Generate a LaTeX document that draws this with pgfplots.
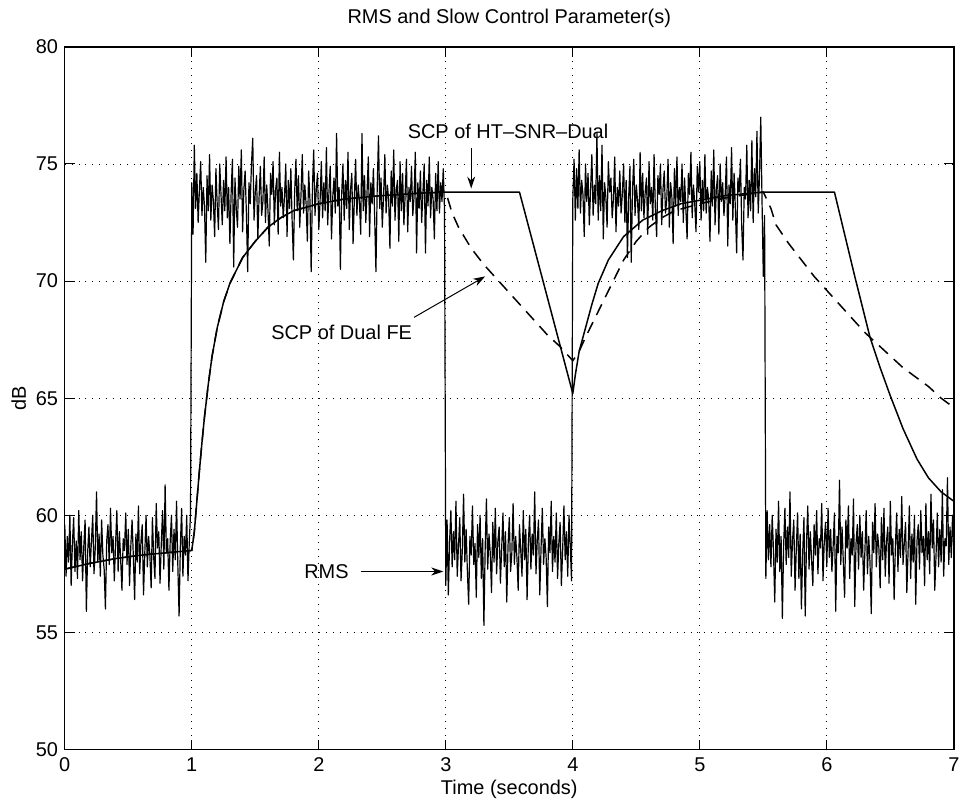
\documentclass[border=0pt]{standalone}
\usepackage{fontspec}
\setmainfont{Liberation Sans}
\usepackage{pgfplots}
\pgfplotsset{compat=1.18}
\usetikzlibrary{arrows.meta}
\begin{document}
\fontsize{20}{24}\selectfont
\begin{tikzpicture}
\path (-65pt,-54pt) rectangle (901pt,752pt);
\begin{axis}[
  scale only axis, width=892pt, height=705pt,
  at={(0,0)}, anchor=south west,
  xmin=0, xmax=7, ymin=50, ymax=80,
  xtick={0,1,2,3,4,5,6,7}, ytick={50,55,60,65,70,75,80},
  tick pos=both, tick align=inside, major tick length=10pt,
  tick style={line width=1pt, black},
  axis line style={line width=1.4pt, black},
  grid=major,
  major grid style={dash pattern=on 0.9pt off 6pt, line width=0.9pt, black},
  /pgf/number format/assume math mode=true,
  tick label style={font=\fontsize{20}{24}\selectfont},
  xticklabel style={yshift=-1pt},
  title={RMS and Slow Control Parameter(s)},
  title style={at={(axis description cs:0.5,1.0245)}, anchor=base, font=\fontsize{20}{24}\selectfont},
  xlabel={Time (seconds)},
  xlabel style={at={(axis description cs:0.5,-0.0645)}, anchor=base, font=\fontsize{20}{24}\selectfont},
  ylabel={dB},
  ylabel style={at={(axis description cs:-0.0437,0.5)}, anchor=base, font=\fontsize{20}{24}\selectfont},
]
% RMS
\addplot[black, line width=1.2pt, line join=round] table {
x y
0.00 59.6
0.01 57.4
0.02 59.1
0.03 58.0
0.04 60.0
0.05 57.0
0.06 58.8
0.07 59.9
0.08 57.6
0.09 58.9
0.10 57.3
0.11 60.2
0.12 58.1
0.13 59.3
0.14 57.2
0.15 58.7
0.16 59.8
0.17 55.9
0.18 58.4
0.19 59.5
0.20 57.8
0.21 58.9
0.22 60.0
0.23 57.5
0.24 58.6
0.25 61.0
0.26 58.0
0.27 59.2
0.28 57.4
0.29 59.8
0.30 58.3
0.31 57.7
0.32 56.0
0.33 58.9
0.34 59.6
0.35 57.9
0.36 60.3
0.37 58.4
0.38 59.1
0.39 57.2
0.40 58.8
0.41 60.2
0.42 57.6
0.43 59.3
0.44 58.1
0.45 56.8
0.46 59.0
0.47 58.5
0.48 60.1
0.49 57.9
0.50 59.4
0.51 57.0
0.52 58.7
0.53 59.8
0.54 58.2
0.55 56.4
0.56 59.2
0.57 58.0
0.58 60.4
0.59 57.5
0.60 58.9
0.61 59.6
0.62 56.6
0.63 58.4
0.64 60.0
0.65 57.8
0.66 59.1
0.67 58.3
0.68 56.9
0.69 59.9
0.70 58.2
0.71 57.3
0.72 60.5
0.73 58.6
0.74 59.3
0.75 57.1
0.76 58.8
0.77 60.2
0.78 57.7
0.79 61.3
0.80 58.4
0.81 59.0
0.82 56.8
0.83 58.9
0.84 60.0
0.85 57.6
0.86 59.4
0.87 58.1
0.88 60.6
0.89 57.9
0.90 55.7
0.91 58.7
0.92 60.3
0.93 57.4
0.94 59.1
0.95 58.3
0.96 60.0
0.97 57.2
0.98 58.8
0.99 60.1
1.00 74.2
1.01 72.0
1.02 75.8
1.03 73.1
1.04 74.6
1.05 72.5
1.06 73.9
1.07 75.1
1.08 72.8
1.09 74.0
1.10 73.2
1.11 70.8
1.12 74.5
1.13 73.0
1.14 75.4
1.15 72.6
1.16 74.1
1.17 73.4
1.18 71.9
1.19 74.8
1.20 73.3
1.21 72.2
1.22 75.0
1.23 73.7
1.24 72.4
1.25 74.3
1.26 73.0
1.27 75.3
1.28 72.7
1.29 74.0
1.30 71.6
1.31 73.8
1.32 75.2
1.33 70.6
1.34 74.4
1.35 73.1
1.36 72.3
1.37 74.9
1.38 73.5
1.39 75.6
1.40 72.1
1.41 73.9
1.42 74.7
1.43 72.9
1.44 70.4
1.45 74.2
1.46 73.3
1.47 75.0
1.48 76.1
1.49 72.6
1.50 73.8
1.51 74.5
1.52 71.8
1.53 73.6
1.54 74.9
1.55 72.8
1.56 73.4
1.57 75.3
1.58 72.5
1.59 74.1
1.60 73.0
1.61 71.5
1.62 74.6
1.63 73.7
1.64 75.1
1.65 72.4
1.66 73.9
1.67 74.4
1.68 72.0
1.69 75.5
1.70 73.2
1.71 74.0
1.72 72.7
1.73 73.6
1.74 75.0
1.75 71.9
1.76 74.3
1.77 73.1
1.78 74.8
1.79 72.6
1.80 70.9
1.81 73.8
1.82 75.2
1.83 73.0
1.84 74.5
1.85 72.3
1.86 73.7
1.87 75.4
1.88 72.9
1.89 74.1
1.90 73.3
1.91 71.7
1.92 74.7
1.93 73.5
1.94 70.4
1.95 74.0
1.96 75.6
1.97 72.8
1.98 73.9
1.99 74.6
2.00 72.2
2.01 73.4
2.02 75.1
2.03 72.7
2.04 74.2
2.05 73.0
2.06 75.7
2.07 72.4
2.08 73.8
2.09 74.9
2.10 71.8
2.11 73.6
2.12 74.4
2.13 72.9
2.14 76.3
2.15 73.2
2.16 74.0
2.17 70.5
2.18 73.7
2.19 75.0
2.20 72.6
2.21 74.3
2.22 73.1
2.23 75.5
2.24 72.2
2.25 73.9
2.26 74.6
2.27 71.6
2.28 73.5
2.29 75.2
2.30 72.8
2.31 74.1
2.32 73.4
2.33 72.0
2.34 76.3
2.35 73.0
2.36 74.5
2.37 72.5
2.38 73.8
2.39 75.3
2.40 71.9
2.41 74.2
2.42 73.3
2.43 74.8
2.44 72.7
2.45 70.4
2.46 74.0
2.47 76.2
2.48 73.1
2.49 74.4
2.50 72.3
2.51 73.6
2.52 75.4
2.53 72.9
2.54 74.1
2.55 73.5
2.56 71.4
2.57 74.7
2.58 73.2
2.59 75.6
2.60 72.6
2.61 73.9
2.62 74.3
2.63 71.7
2.64 75.1
2.65 73.0
2.66 74.6
2.67 72.4
2.68 73.7
2.69 75.2
2.70 72.1
2.71 74.0
2.72 73.4
2.73 74.9
2.74 72.8
2.75 73.6
2.76 75.5
2.77 71.2
2.78 74.2
2.79 73.1
2.80 74.7
2.81 72.5
2.82 73.8
2.83 75.0
2.84 71.2
2.85 74.3
2.86 73.2
2.87 75.3
2.88 72.7
2.89 74.0
2.90 73.5
2.91 71.8
2.92 74.6
2.93 73.0
2.94 75.1
2.95 72.9
2.96 74.2
2.97 73.4
2.98 74.8
2.99 73.0
3.00 57.0
3.01 59.8
3.02 56.6
3.03 58.9
3.04 60.2
3.05 57.8
3.06 59.3
3.07 58.1
3.08 60.6
3.09 57.4
3.10 58.7
3.11 59.9
3.12 57.2
3.13 58.5
3.14 60.9
3.15 58.0
3.16 59.4
3.17 57.6
3.18 56.2
3.19 59.1
3.20 58.3
3.21 60.4
3.22 57.9
3.23 58.8
3.24 56.5
3.25 59.6
3.26 58.2
3.27 60.0
3.28 57.3
3.29 59.0
3.30 55.3
3.31 58.6
3.32 60.7
3.33 57.7
3.34 59.2
3.35 58.4
3.36 56.7
3.37 59.7
3.38 58.0
3.39 60.3
3.40 57.5
3.41 58.9
3.42 59.5
3.43 57.1
3.44 58.6
3.45 60.1
3.46 57.8
3.47 59.3
3.48 56.3
3.49 58.7
3.50 59.9
3.51 57.6
3.52 58.4
3.53 60.5
3.54 57.9
3.55 59.1
3.56 58.2
3.57 56.8
3.58 59.6
3.59 58.5
3.60 57.4
3.61 60.2
3.62 58.1
3.63 59.4
3.64 56.4
3.65 58.8
3.66 60.0
3.67 57.7
3.68 59.2
3.69 58.3
3.70 61.0
3.71 57.5
3.72 58.9
3.73 59.8
3.74 56.6
3.75 58.6
3.76 60.3
3.77 57.9
3.78 59.0
3.79 58.2
3.80 56.1
3.81 59.5
3.82 58.4
3.83 60.6
3.84 57.6
3.85 59.1
3.86 58.0
3.87 60.1
3.88 57.3
3.89 58.8
3.90 59.7
3.91 57.0
3.92 58.5
3.93 60.4
3.94 58.1
3.95 59.3
3.96 57.4
3.97 60.0
3.98 58.7
3.99 57.2
4.00 73.5
4.01 75.2
4.02 72.6
4.03 74.8
4.04 73.1
4.05 75.6
4.06 72.9
4.07 74.3
4.08 73.7
4.09 71.9
4.10 75.0
4.11 73.4
4.12 74.6
4.13 72.4
4.14 73.9
4.15 75.4
4.16 72.8
4.17 74.1
4.18 73.3
4.19 76.3
4.20 72.6
4.21 74.5
4.22 73.0
4.23 75.8
4.24 71.8
4.25 74.2
4.26 73.6
4.27 72.3
4.28 75.1
4.29 73.8
4.30 74.4
4.31 72.7
4.32 73.5
4.33 75.3
4.34 72.1
4.35 74.0
4.36 73.2
4.37 74.7
4.38 72.9
4.39 73.7
4.40 75.0
4.41 72.5
4.42 74.3
4.43 71.0
4.44 73.6
4.45 74.9
4.46 70.8
4.47 73.9
4.48 75.2
4.49 72.8
4.50 74.1
4.51 73.4
4.52 72.2
4.53 75.5
4.54 73.0
4.55 74.6
4.56 72.7
4.57 73.8
4.58 74.4
4.59 72.0
4.60 75.1
4.61 73.3
4.62 74.0
4.63 72.6
4.64 75.4
4.65 73.1
4.66 71.9
4.67 74.5
4.68 73.7
4.69 75.0
4.70 72.4
4.71 73.9
4.72 74.7
4.73 72.9
4.74 73.5
4.75 75.2
4.76 72.3
4.77 74.2
4.78 73.6
4.79 71.6
4.80 74.8
4.81 73.2
4.82 75.3
4.83 72.8
4.84 74.0
4.85 73.4
4.86 75.0
4.87 72.5
4.88 74.4
4.89 73.1
4.90 71.8
4.91 74.6
4.92 73.7
4.93 75.5
4.94 72.7
4.95 74.1
4.96 73.3
4.97 72.1
4.98 74.9
4.99 73.8
5.00 75.1
5.01 72.6
5.02 74.3
5.03 73.0
5.04 75.4
5.05 72.9
5.06 74.0
5.07 73.5
5.08 71.7
5.09 74.7
5.10 73.2
5.11 75.6
5.12 72.4
5.13 73.9
5.14 74.5
5.15 72.0
5.16 75.0
5.17 73.4
5.18 74.2
5.19 72.8
5.20 73.7
5.21 75.3
5.22 71.5
5.23 74.1
5.24 73.3
5.25 75.7
5.26 72.6
5.27 74.6
5.28 73.1
5.29 71.2
5.30 74.4
5.31 73.8
5.32 75.2
5.33 72.3
5.34 70.9
5.35 74.0
5.36 73.5
5.37 75.8
5.38 72.7
5.39 74.3
5.40 73.0
5.41 76.0
5.42 72.5
5.43 74.8
5.44 73.6
5.45 76.4
5.46 72.9
5.47 74.5
5.48 77.0
5.49 73.4
5.50 70.2
5.51 72.8
5.52 57.3
5.53 60.2
5.54 58.1
5.55 59.6
5.56 57.8
5.57 60.0
5.58 58.5
5.59 56.3
5.60 59.4
5.61 58.0
5.62 60.6
5.63 57.6
5.64 59.1
5.65 55.6
5.66 58.7
5.67 60.3
5.68 57.9
5.69 59.5
5.70 58.2
5.71 61.0
5.72 57.4
5.73 58.9
5.74 59.8
5.75 56.8
5.76 58.6
5.77 60.1
5.78 57.3
5.79 59.2
5.80 56.0
5.81 58.4
5.82 59.9
5.83 55.7
5.84 58.8
5.85 60.4
5.86 57.7
5.87 59.3
5.88 58.1
5.89 57.0
5.90 59.6
5.91 58.3
5.92 60.2
5.93 57.5
5.94 59.0
5.95 58.6
5.96 60.5
5.97 57.2
5.98 58.9
5.99 59.7
6.00 57.8
6.01 60.3
6.02 58.2
6.03 59.4
6.04 57.6
6.05 58.7
6.06 60.1
6.07 55.9
6.08 59.1
6.09 58.4
6.10 61.5
6.11 57.9
6.12 59.5
6.13 58.0
6.14 56.5
6.15 59.8
6.16 58.6
6.17 60.4
6.18 57.3
6.19 59.0
6.20 58.3
6.21 60.7
6.22 56.1
6.23 58.8
6.24 59.6
6.25 57.7
6.26 60.0
6.27 58.2
6.28 59.3
6.29 56.8
6.30 58.5
6.31 60.2
6.32 57.5
6.33 59.1
6.34 58.0
6.35 55.8
6.36 59.7
6.37 58.4
6.38 60.5
6.39 57.8
6.40 59.2
6.41 58.6
6.42 56.9
6.43 59.9
6.44 58.1
6.45 60.3
6.46 57.4
6.47 58.9
6.48 59.5
6.49 57.1
6.50 60.6
6.51 58.3
6.52 59.0
6.53 56.4
6.54 58.7
6.55 60.1
6.56 57.6
6.57 59.4
6.58 58.2
6.59 60.8
6.60 57.9
6.61 58.8
6.62 59.7
6.63 56.7
6.64 58.5
6.65 60.4
6.66 57.3
6.67 59.2
6.68 58.0
6.69 60.0
6.70 56.2
6.71 58.9
6.72 59.6
6.73 57.7
6.74 60.2
6.75 58.4
6.76 59.1
6.77 57.0
6.78 60.5
6.79 58.1
6.80 59.3
6.81 57.5
6.82 60.9
6.83 58.6
6.84 59.8
6.85 56.8
6.86 58.3
6.87 60.1
6.88 57.8
6.89 59.4
6.90 58.0
6.91 61.1
6.92 57.4
6.93 59.0
6.94 58.7
6.95 61.6
6.96 57.9
6.97 59.5
6.98 58.2
6.99 60.0
7.00 58.6
};
% SCP of HT-SNR-Dual (solid)
\addplot[black, line width=1.5pt, line join=round] coordinates {
(0,57.7) (0.2,57.95) (0.4,58.15) (0.6,58.3) (0.8,58.4) (1.0,58.5)
(1.02,59.3) (1.04,60.6) (1.06,61.9) (1.08,63.1) (1.10,64.2) (1.13,65.6)
(1.16,66.8) (1.20,68.0) (1.25,69.1) (1.30,69.9) (1.40,71.0) (1.50,71.7)
(1.60,72.3) (1.70,72.7) (1.80,73.0) (2.0,73.3) (2.2,73.5) (2.5,73.65)
(2.8,73.75) (3.0,73.8) (3.58,73.8) (4.0,65.2) (4.02,66.0) (4.05,67.0)
(4.10,68.0) (4.15,69.0) (4.20,69.9) (4.28,70.9) (4.40,71.9) (4.55,72.6)
(4.70,73.0) (4.85,73.3) (5.0,73.45) (5.2,73.65) (5.5,73.8) (6.06,73.8)
(6.14,72.0) (6.22,70.2) (6.34,67.6) (6.42,66.3) (6.50,65.1) (6.60,63.7)
(6.71,62.4) (6.80,61.6) (6.90,61.0) (7.0,60.6)
};
% SCP of Dual FE (dashed)
\addplot[black, line width=1.5pt, dash pattern=on 12pt off 8pt] coordinates {
(0,57.7) (0.2,57.95) (0.4,58.15) (0.6,58.3) (0.8,58.4) (1.0,58.5)
(1.02,59.3) (1.04,60.6) (1.06,61.9) (1.08,63.1) (1.10,64.2) (1.13,65.6)
(1.16,66.8) (1.20,68.0) (1.25,69.1) (1.30,69.9) (1.40,71.0) (1.50,71.7)
(1.60,72.3) (1.70,72.7) (1.80,73.0) (2.0,73.3) (2.2,73.5) (2.5,73.65)
(2.8,73.75) (3.0,73.8) (3.05,72.9) (3.1,72.3) (3.2,71.4) (3.3,70.7)
(3.4,70.1) (3.5,69.5) (3.6,68.9) (3.7,68.3) (3.8,67.7) (3.9,67.2) (4.0,66.6)
(4.05,67.0) (4.1,67.6) (4.2,68.7) (4.3,69.8) (4.4,70.9) (4.5,71.7)
(4.6,72.3) (4.7,72.7) (4.8,73.0) (5.0,73.3) (5.2,73.55) (5.5,73.8)
(5.56,73.1) (5.6,72.4) (5.7,71.6) (5.8,70.9) (5.9,70.2) (6.0,69.6)
(6.1,69.0) (6.2,68.4) (6.3,67.8) (6.4,67.3) (6.5,66.8) (6.6,66.3)
(6.7,65.9) (6.8,65.5) (6.9,65.0) (7.0,64.6)
};
% annotations
\node[anchor=center, font=\fontsize{20}{24}\selectfont] at (axis cs:3.49,76.4) {SCP of HT--SNR--Dual};
\draw[black, line width=1pt, -{Stealth[length=12pt, width=8pt]}] (axis cs:3.2,75.7) -- (axis cs:3.2,73.95);
\node[anchor=center, font=\fontsize{20}{24}\selectfont] at (axis cs:2.18,67.8) {SCP of Dual FE};
\draw[black, line width=1pt, -{Stealth[length=12pt, width=8pt]}] (axis cs:2.75,68.45) -- (axis cs:3.31,70.2);
\node[anchor=center, font=\fontsize{20}{24}\selectfont] at (axis cs:2.06,57.6) {RMS};
\draw[black, line width=1pt, -{Stealth[length=12pt, width=8pt]}] (axis cs:2.33,57.6) -- (axis cs:2.98,57.6);
\end{axis}
\end{tikzpicture}
\end{document}
